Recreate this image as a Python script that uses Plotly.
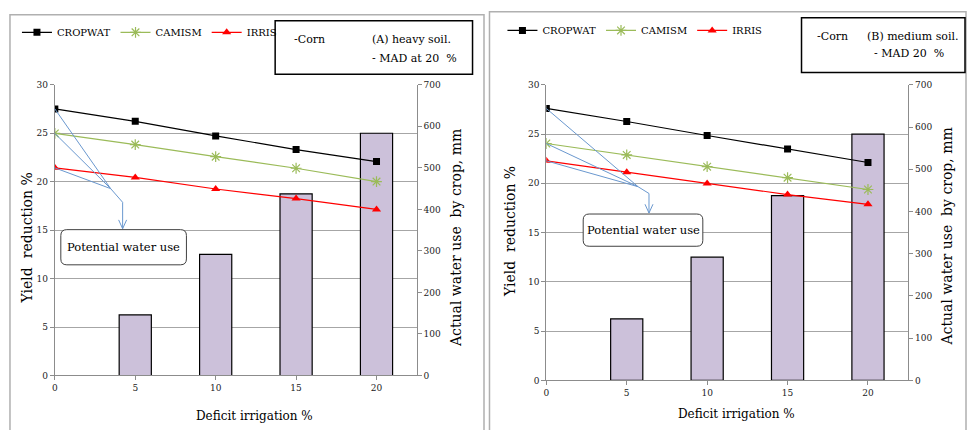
import plotly.graph_objects as go

W, H = 967, 430

# ---------------- data ----------------
deficit = [0, 5, 10, 15, 20]
yield_reduction = [0, 6.25, 12.5, 18.75, 25]

# Panel A (heavy soil) actual water use, mm
cropwat_a = [642, 612, 577, 544, 515]
camism_a = [583, 556, 527, 499, 467]
irris_a = [500, 477, 449, 426, 400]

# Panel B (medium soil) actual water use, mm
cropwat_b = [644, 613, 580, 548, 516]
camism_b = [561, 534, 506, 480, 452]
irris_b = [520, 493, 466, 440, 417]

x_ticks = [0, 5, 10, 15, 20]
y_left_ticks = [0, 5, 10, 15, 20, 25, 30]
y_right_ticks = [0, 100, 200, 300, 400, 500, 600, 700]

FONT = "DejaVu Serif"
BAR_COLOR = "#ccc1da"
GREEN = "#9bbb59"
BLUE = "#6a98cf"
GRID = "#a6a6a6"


def pxx(x):
    return x / W


def pxy(y):
    return 1 - y / H


fig = go.Figure()

panels = [
    dict(key="A", xa="x", ya="y", ya2="y2", legend="legend",
         cw=cropwat_a, cm=camism_a, ir=irris_a,
         xdom=[pxx(52), pxx(415)], ydom=[pxy(379.3), pxy(81.7)]),
    dict(key="B", xa="x2", ya="y3", ya2="y4", legend="legend2",
         cw=cropwat_b, cm=camism_b, ir=irris_b,
         xdom=[pxx(545), pxx(908)], ydom=[pxy(384.3), pxy(81.7)]),
]

for p in panels:
    fig.add_trace(go.Bar(
        x=deficit[1:], y=yield_reduction[1:], width=2,
        marker=dict(color=BAR_COLOR, line=dict(color="black", width=1.2)),
        xaxis=p["xa"], yaxis=p["ya"], showlegend=False, hoverinfo="skip"))
    fig.add_trace(go.Scatter(
        x=deficit, y=p["cw"], name="CROPWAT", mode="lines+markers",
        line=dict(color="black", width=1.2),
        marker=dict(symbol="square", size=7, color="black"),
        xaxis=p["xa"], yaxis=p["ya2"], legend=p["legend"]))
    fig.add_trace(go.Scatter(
        x=deficit, y=p["cm"], name="CAMISM", mode="lines+markers",
        line=dict(color=GREEN, width=1.2),
        marker=dict(symbol="asterisk-open", size=9, color=GREEN,
                    line=dict(color=GREEN, width=1.2)),
        xaxis=p["xa"], yaxis=p["ya2"], legend=p["legend"]))
    fig.add_trace(go.Scatter(
        x=deficit, y=p["ir"], name="IRRIS", mode="lines+markers",
        line=dict(color="red", width=1.2),
        marker=dict(symbol="triangle-up", size=8, color="red"),
        xaxis=p["xa"], yaxis=p["ya2"], legend=p["legend"]))

tickfont = dict(family=FONT, size=9, color="#222")
xcommon = dict(range=[0, 22.5], tickvals=x_ticks, showgrid=False, zeroline=False,
               showline=True, linecolor="#8c8c8c", linewidth=1, ticks="outside",
               ticklen=4, tickcolor="#8c8c8c", tickfont=tickfont, fixedrange=True)
ycommon = dict(range=[0, 30], tickvals=y_left_ticks, showgrid=True, gridcolor=GRID,
               gridwidth=1, zeroline=False, showline=True, linecolor="#8c8c8c",
               ticks="outside", ticklen=4, tickcolor="#8c8c8c", tickfont=tickfont)
y2common = dict(range=[0, 700], tickvals=y_right_ticks, showgrid=False, zeroline=False,
                showline=True, linecolor="#8c8c8c", ticks="outside", ticklen=4,
                tickcolor="#8c8c8c", tickfont=tickfont, side="right")

legcommon = dict(orientation="h", yanchor="middle", xanchor="left",
                 font=dict(family=FONT, size=10, color="black"),
                 bgcolor="rgba(0,0,0,0)", itemwidth=30, tracegroupgap=0)

fig.update_layout(
    width=W, height=H, margin=dict(l=0, r=0, t=0, b=0),
    paper_bgcolor="white", plot_bgcolor="white", barmode="overlay",
    font=dict(family=FONT),
    xaxis=dict(domain=panels[0]["xdom"], anchor="y", **xcommon),
    yaxis=dict(domain=panels[0]["ydom"], anchor="x", **ycommon),
    yaxis2=dict(overlaying="y", anchor="x", **y2common),
    xaxis2=dict(domain=panels[1]["xdom"], anchor="y3", **xcommon),
    yaxis3=dict(domain=panels[1]["ydom"], anchor="x2", **ycommon),
    yaxis4=dict(overlaying="y3", anchor="x2", **y2common),
    legend=dict(x=pxx(14), y=pxy(28), **legcommon),
    legend2=dict(x=pxx(501), y=pxy(26), **legcommon),
    showlegend=True,
)

shapes = []
annotations = []

# outer panel frames
shapes.append(dict(type="rect", xref="paper", yref="paper", x0=pxx(7), x1=pxx(482.5),
                   y0=pxy(440), y1=pxy(10), line=dict(color="#b0b0b0", width=1.5)))
shapes.append(dict(type="rect", xref="paper", yref="paper", x0=pxx(488), x1=pxx(966),
                   y0=pxy(440), y1=pxy(7), line=dict(color="#b0b0b0", width=1.5)))

# info boxes
info = [
    dict(box=(273, 16, 471, 71), corn=(290, 35), t1=("(A) heavy soil.", 368, 35),
         t2=("- MAD at 20  %", 368, 55)),
    dict(box=(801, 13, 965, 69), corn=(815, 32), t1=("(B) medium soil.", 865, 32),
         t2=("- MAD 20  %", 872, 50)),
]
for b in info:
    x0, y0, x1, y1 = b["box"]
    shapes.append(dict(type="rect", xref="paper", yref="paper", x0=pxx(x0), x1=pxx(x1),
                       y0=pxy(y1), y1=pxy(y0), line=dict(color="black", width=1.5)))
    annotations.append(dict(text="-Corn", xref="paper", yref="paper", x=pxx(b["corn"][0]),
                            y=pxy(b["corn"][1]), xanchor="left", yanchor="middle",
                            showarrow=False, font=dict(family=FONT, size=11, color="black")))
    for t, tx, ty in (b["t1"], b["t2"]):
        annotations.append(dict(text=t, xref="paper", yref="paper", x=pxx(tx), y=pxy(ty),
                                xanchor="left", yanchor="middle", showarrow=False,
                                font=dict(family=FONT, size=11, color="black")))

# axis titles
for cx, cy, in [(25, 238), (508, 232)]:
    annotations.append(dict(text="Yield  reduction %", xref="paper", yref="paper",
                            x=pxx(cx), y=pxy(cy), textangle=-90, showarrow=False,
                            xanchor="center", yanchor="middle",
                            font=dict(family=FONT, size=14, color="black")))
for cx, cy in [(455, 239), (947, 237)]:
    annotations.append(dict(text="Actual water use  by crop, mm", xref="paper", yref="paper",
                            x=pxx(cx), y=pxy(cy), textangle=-90, showarrow=False,
                            xanchor="center", yanchor="middle",
                            font=dict(family=FONT, size=14, color="black")))
for cx, cy in [(252, 421), (736, 419)]:
    annotations.append(dict(text="Deficit irrigation %", xref="paper", yref="paper",
                            x=pxx(cx), y=pxy(cy), showarrow=False,
                            xanchor="center", yanchor="middle",
                            font=dict(family=FONT, size=12, color="black")))


# callouts "Potential water use"
def rounded_path(x0, y0, x1, y1, r):
    X = lambda v: pxx(v)
    Y = lambda v: pxy(v)
    return (f"M {X(x0 + r)} {Y(y0)} L {X(x1 - r)} {Y(y0)} Q {X(x1)} {Y(y0)} {X(x1)} {Y(y0 + r)} "
            f"L {X(x1)} {Y(y1 - r)} Q {X(x1)} {Y(y1)} {X(x1 - r)} {Y(y1)} "
            f"L {X(x0 + r)} {Y(y1)} Q {X(x0)} {Y(y1)} {X(x0)} {Y(y1 - r)} "
            f"L {X(x0)} {Y(y0 + r)} Q {X(x0)} {Y(y0)} {X(x0 + r)} {Y(y0)} Z")


callouts = [
    dict(p=panels[0], box=(58, 230, 184, 266), bend=(108, 188), mid=(120, 202), tip=(120, 229)),
    dict(p=panels[1], box=(582, 214, 702, 247), bend=(637, 186), mid=(648, 193), tip=(648, 213)),
]
for c in callouts:
    p = c["p"]
    xd, yd = p["xdom"], p["ydom"]
    for series in (p["cw"], p["cm"], p["ir"]):
        sx = xd[0] + (deficit[0] - 0) / 22.5 * (xd[1] - xd[0])
        sy = yd[0] + series[0] / 700 * (yd[1] - yd[0])
        shapes.append(dict(type="line", xref="paper", yref="paper", x0=sx, y0=sy,
                           x1=pxx(c["bend"][0]), y1=pxy(c["bend"][1]),
                           line=dict(color=BLUE, width=1)))
    bx, by = c["bend"]
    mx, my = c["mid"]
    tx, ty = c["tip"]
    shapes.append(dict(type="path", xref="paper", yref="paper",
                       path=f"M {pxx(bx)} {pxy(by)} L {pxx(mx)} {pxy(my)} L {pxx(tx)} {pxy(ty)}",
                       line=dict(color=BLUE, width=1)))
    shapes.append(dict(type="path", xref="paper", yref="paper",
                       path=f"M {pxx(tx - 4)} {pxy(ty - 9)} L {pxx(tx)} {pxy(ty)} L {pxx(tx + 4)} {pxy(ty - 9)}",
                       line=dict(color=BLUE, width=1)))
    x0, y0, x1, y1 = c["box"]
    shapes.append(dict(type="path", xref="paper", yref="paper",
                       path=rounded_path(x0, y0, x1, y1, 6), fillcolor="white",
                       line=dict(color="#404040", width=1)))
    annotations.append(dict(text="Potential water use", xref="paper", yref="paper",
                            x=pxx((x0 + x1) / 2), y=pxy((y0 + y1) / 2), showarrow=False,
                            xanchor="center", yanchor="middle",
                            font=dict(family=FONT, size=11.5, color="black")))

fig.update_layout(shapes=shapes, annotations=annotations)

fig.write_html("out.html")
